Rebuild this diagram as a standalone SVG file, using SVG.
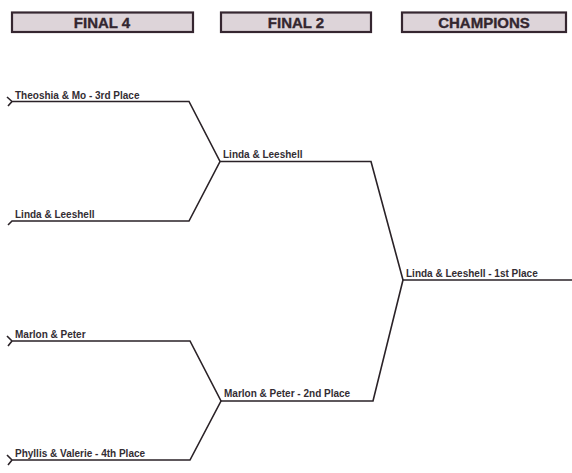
<svg xmlns="http://www.w3.org/2000/svg" width="572" height="473" viewBox="0 0 572 473">
<style>
.hdr{fill:#ddd4d9;stroke:#352630;stroke-width:2.2}
.ht{font-family:"Liberation Sans",Arial,sans-serif;font-weight:bold;font-size:15px;fill:#33262f;stroke:#33262f;stroke-width:0.35;text-anchor:middle}
.lb{font-family:"Liberation Sans",Arial,sans-serif;font-weight:bold;font-size:10px;fill:#332d33}
.ln{fill:none;stroke:#2a2227;stroke-width:1.6;stroke-linejoin:miter}
</style>
<rect width="572" height="473" fill="#ffffff"/>
<g id="hdr-final4"><rect class="hdr" x="12" y="12.5" width="181" height="19.5"/><text class="ht" x="102" y="28">FINAL 4</text></g>
<g id="hdr-final2"><rect class="hdr" x="221" y="12.5" width="150" height="19.5"/><text class="ht" x="296" y="28">FINAL 2</text></g>
<g id="hdr-champions"><rect class="hdr" x="402" y="12.5" width="164" height="19.5"/><text class="ht" x="484" y="28">CHAMPIONS</text></g>
<g id="connectors">
<path class="ln" d="M7,97 L12,101.5 L8,106 M12,101.5 H189 L220,161.5 L189,221 H12 L8,225"/>
<path class="ln" d="M7,336 L12,341 L8,346 M12,341 H190 L221,401 L190,460 H12 M7,455 L12,460 L8,465"/>
<path class="ln" d="M220,161.5 H371 L403,280 L373,401 H221"/>
<path class="ln" d="M403,280 H572"/>
</g>
<g id="team-theoshia"><text class="lb" x="15" y="99">Theoshia &amp; Mo - 3rd Place</text></g>
<g id="team-linda-r1"><text class="lb" x="15" y="218">Linda &amp; Leeshell</text></g>
<g id="team-marlon-r1"><text class="lb" x="15" y="338">Marlon &amp; Peter</text></g>
<g id="team-phyllis"><text class="lb" x="15" y="457">Phyllis &amp; Valerie - 4th Place</text></g>
<g id="team-linda-r2"><text class="lb" x="223" y="158">Linda &amp; Leeshell</text></g>
<g id="team-marlon-r2"><text class="lb" x="224" y="397">Marlon &amp; Peter - 2nd Place</text></g>
<g id="team-champion"><text class="lb" x="406" y="277">Linda &amp; Leeshell - 1st Place</text></g>
</svg>
